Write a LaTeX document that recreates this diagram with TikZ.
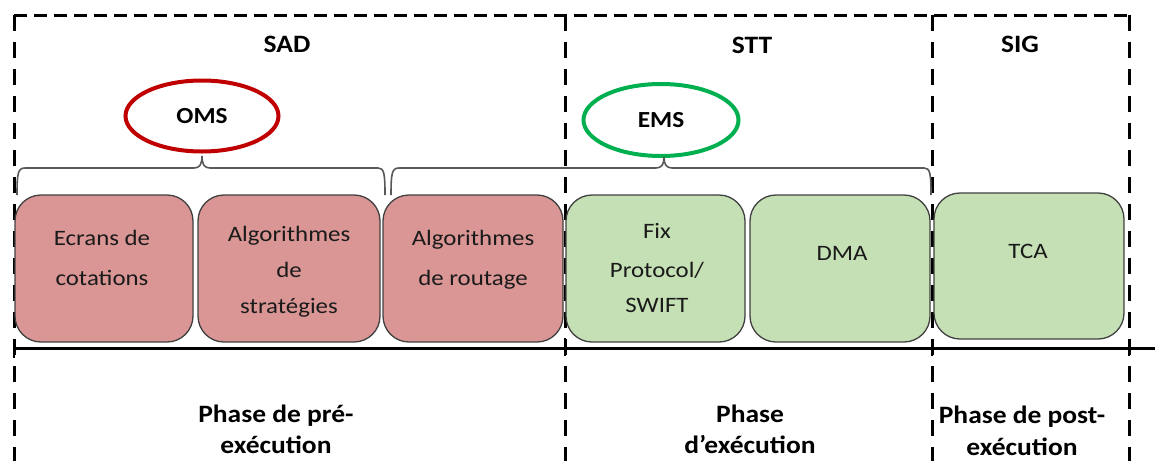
\documentclass[tikz,border=0pt]{standalone}
\usepackage{fontspec}
\setmainfont{Carlito}
\newfontfamily\boxfont[FakeStretch=1.13]{Carlito}
\newfontfamily\labfont[FakeStretch=1.1]{Carlito}
\usetikzlibrary{shapes.geometric}
\definecolor{boxred}{HTML}{D99694}
\definecolor{boxgreen}{HTML}{C5E0B4}
\definecolor{omsred}{HTML}{C00000}
\definecolor{emsgreen}{HTML}{00B050}
\definecolor{edgegray}{HTML}{404040}
\definecolor{bracegray}{HTML}{595959}
\definecolor{txtgray}{HTML}{1A1A1A}
\begin{document}
\begin{tikzpicture}[x=1pt,y=-1pt,
  hdash/.style={draw=black,line width=3pt,dash pattern=on 13pt off 7pt},
  vdash/.style={draw=black,line width=3pt,dash pattern=on 16pt off 11pt},
  cbox/.style={draw=edgegray,line width=1.3pt,rounded corners=26pt,minimum height=147pt,inner sep=0pt},
  redbox/.style={cbox,fill=boxred},
  greenbox/.style={cbox,fill=boxgreen},
  btext/.style={anchor=base,inner sep=0pt,text=txtgray,font=\boxfont\fontsize{22}{26}\selectfont},
  ltext/.style={anchor=base,inner sep=0pt,text=black,font=\labfont\bfseries\fontsize{25}{30}\selectfont},
  bracestyle/.style={draw=bracegray,line width=1.6pt},
  oval/.style={ellipse,line width=4pt,fill=white,inner sep=0pt,font=\labfont\bfseries\fontsize{23}{27}\selectfont}
]
\useasboundingbox (0,0) rectangle (1155,461);
\fill[white] (0,0) rectangle (1155,461);

% frame dashed lines
\coordinate (tl) at (14,15);
\coordinate (tr) at (1129,15);
\draw[hdash] (tl) -- (tr);
\draw[vdash] (14,15) -- (14,461);
\draw[vdash] (565,15) -- (565,461);
\draw[vdash] (932,15) -- (932,461);
\draw[vdash] (1129,15) -- (1129,461);

% section labels
\node[ltext] (sad) at (287,52) {SAD};
\node[ltext] (stt) at (752,53) {STT};
\node[ltext] (sig) at (1020,52) {SIG};

% ellipses
\node[oval,draw=omsred,minimum width=153pt,minimum height=71pt] (oms) at (202,116) {OMS};
\node[oval,draw=emsgreen,minimum width=155pt,minimum height=72pt] (ems) at (661,120) {EMS};

% braces
\draw[bracestyle] (17,195) .. controls (17,173) and (18,168) .. (25,168) -- (194,168)
  .. controls (200,168) and (202,164) .. (202,156) .. controls (202,164) and (204,168) .. (210,168)
  -- (378,168) .. controls (384,168) and (385,173) .. (385,195);
\draw[bracestyle] (391,195) .. controls (391,173) and (392,168) .. (399,168) -- (656,168)
  .. controls (662,168) and (664,164) .. (664,157) .. controls (664,164) and (666,168) .. (672,168)
  -- (924,168) .. controls (930,168) and (931,173) .. (931,195);

% boxes
\node[redbox,minimum width=178pt] (b1) at (104,268.5) {};
\node[redbox,minimum width=182pt] (b2) at (289,268.5) {};
\node[redbox,minimum width=180pt] (b3) at (473,268.5) {};
\node[greenbox,minimum width=179pt] (b4) at (655.5,268.5) {};
\node[greenbox,minimum width=180pt] (b5) at (840,268.5) {};
\node[greenbox,minimum width=190pt,minimum height=146pt] (b6) at (1029,266) {};

% box texts
\node[btext] (b1a) at (102,245) {Ecrans de};
\node[btext] (b1b) at (102,285) {cotations};
\node[btext] (b2a) at (289,241) {Algorithmes};
\node[btext] (b2b) at (289,277) {de};
\node[btext] (b2c) at (289,313) {stratégies};
\node[btext] (b3a) at (473,245) {Algorithmes};
\node[btext] (b3b) at (473,285) {de routage};
\node[btext] (b4a) at (657,238) {Fix};
\node[btext] (b4b) at (657,277) {Protocol/};
\node[btext] (b4c) at (657,312) {SWIFT};
\node[btext] (b5a) at (842,260) {DMA};
\node[btext] (b6a) at (1028,258) {TCA};

% timeline
\coordinate (tlL) at (14,348);
\coordinate (tlR) at (1155,348);
\draw[line width=3pt] (tlL) -- (tlR);
\draw[line width=2.5pt] (14,340) -- (14,358);
\draw[line width=2.5pt] (565,338) -- (565,356);
\draw[line width=2.5pt] (932,340) -- (932,356);
\draw[line width=2.5pt] (1129,340) -- (1129,356);

% phase labels
\node[ltext] (p1a) at (276,422) {Phase de pré-};
\node[ltext] (p1b) at (276,453) {exécution};
\node[ltext] (p2a) at (750,422) {Phase};
\node[ltext] (p2b) at (750,453) {d’exécution};
\node[ltext] (p3a) at (1022,423) {Phase de post-};
\node[ltext] (p3b) at (1022,455) {exécution};
\end{tikzpicture}
\end{document}
